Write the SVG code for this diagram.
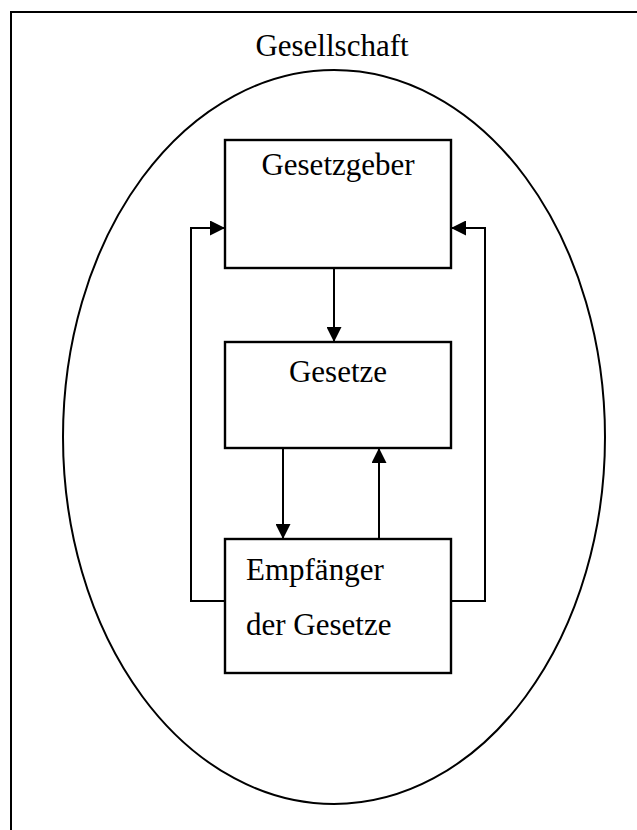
<svg xmlns="http://www.w3.org/2000/svg" width="637" height="830" viewBox="0 0 637 830">
  <defs>
    <style>
      .frame { fill: none; stroke: #000; stroke-width: 2; }
      .box { fill: #fff; stroke: #000; stroke-width: 2.4; }
      .label { font-family: "Liberation Serif", "Times New Roman", serif; font-size: 31px; fill: #000; }
      .link { fill: none; stroke: #000; stroke-width: 2; }
    </style>
    <marker id="arrow" markerUnits="userSpaceOnUse" markerWidth="15" markerHeight="15" viewBox="0 0 15 15" refX="15" refY="7.5" orient="auto">
      <polygon points="0,0 15,7.5 0,15" fill="#000"/>
    </marker>
  </defs>

  <rect width="637" height="830" fill="#fff"/>

  <!-- outer frame, running past the right and bottom edges -->
  <rect class="frame" x="11" y="12" width="700" height="900"/>

  <!-- society -->
  <g id="gesellschaft">
    <ellipse class="frame" cx="334" cy="437" rx="271" ry="367"/>
    <text class="label" x="332" y="56" text-anchor="middle">Gesellschaft</text>
  </g>

  <g id="gesetzgeber">
    <rect class="box" x="225" y="140" width="226" height="128"/>
    <text class="label" x="338" y="175" text-anchor="middle">Gesetzgeber</text>
  </g>

  <g id="gesetze">
    <rect class="box" x="225" y="342" width="226" height="106"/>
    <text class="label" x="338" y="382" text-anchor="middle">Gesetze</text>
  </g>

  <g id="empfaenger">
    <rect class="box" x="225" y="539" width="226" height="134"/>
    <text class="label" x="246" y="580">Empfänger</text>
    <text class="label" x="246" y="635">der Gesetze</text>
  </g>

  <g id="connectors">
    <path class="link" d="M334,268 V342" marker-end="url(#arrow)"/>
    <path class="link" d="M283,448 V539" marker-end="url(#arrow)"/>
    <path class="link" d="M379,539 V448" marker-end="url(#arrow)"/>
    <path class="link" d="M225,601 H191 V228 H225" marker-end="url(#arrow)"/>
    <path class="link" d="M451,601 H485 V228 H451" marker-end="url(#arrow)"/>
  </g>
</svg>
